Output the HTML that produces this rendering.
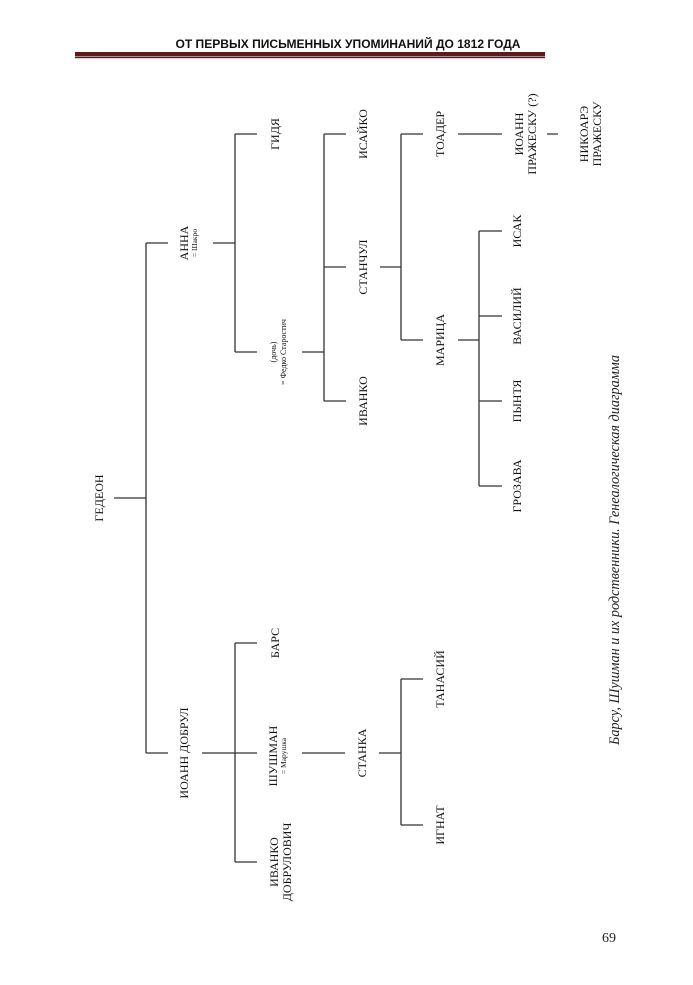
<!DOCTYPE html>
<html><head><meta charset="utf-8"><style>
html,body{margin:0;padding:0;background:#fff;}
svg{display:block;}
</style></head><body>
<svg width="693" height="985" viewBox="0 0 693 985" xmlns="http://www.w3.org/2000/svg">
<rect width="693" height="985" fill="#fff"/>
<text x="348" y="48" text-anchor="middle" font-family="Liberation Sans, sans-serif" font-weight="bold" font-size="11.5" textLength="345" lengthAdjust="spacingAndGlyphs" fill="#111">ОТ ПЕРВЫХ ПИСЬМЕННЫХ УПОМИНАНИЙ ДО 1812 ГОДА</text>
<rect x="75" y="52" width="470" height="4.5" fill="#5e1a1c"/>
<rect x="75" y="57" width="470" height="1.2" fill="#5e1a1c"/>

<g stroke="#333" stroke-width="1.3" fill="none">
<path d="M114 498H146M146 243V753M146 243H168M146 753H168"/>
<path d="M213 243H235M235 134V352M235 134H257M235 352H257"/>
<path d="M302 352H324M324 134V401M324 134H346M324 267H346M324 401H346"/>
<path d="M380 267H401M401 134V340M401 134H423M401 340H423"/>
<path d="M458 134H502M547 134H558"/>
<path d="M458 340H479M479 231V486M479 231H502M479 316H502M479 401H502M479 486H502"/>
<path d="M202 753H257M235 643V862M235 643H257M235 862H257"/>
<path d="M302 753H345M379 753H401M401 679V825M401 679H423M401 825H423"/>
</g>

<g font-family="Liberation Serif, serif" font-size="12" fill="#111" text-anchor="middle">
<text transform="translate(99,498) rotate(-90)" dy="4">ГЕДЕОН</text>
<text transform="translate(188,243) rotate(-90)"><tspan x="0" dy="0">АННА</tspan><tspan x="0" dy="9" font-size="7.5">= Шакро</tspan></text>
<text transform="translate(275,134) rotate(-90)" dy="4">ГИДЯ</text>
<text transform="translate(277,352) rotate(-90)"><tspan x="0" dy="-1" font-size="8">(дочь)</tspan><tspan x="0" dy="10" font-size="8">= Федко Старостич</tspan></text>
<text transform="translate(363,134) rotate(-90)" dy="4">ИСАЙКО</text>
<text transform="translate(363,267) rotate(-90)" dy="4">СТАНЧУЛ</text>
<text transform="translate(363,401) rotate(-90)" dy="4">ИВАНКО</text>
<text transform="translate(440,134) rotate(-90)" dy="4">ТОАДЕР</text>
<text transform="translate(440,340) rotate(-90)" dy="4">МАРИЦА</text>
<text transform="translate(525,134) rotate(-90)"><tspan x="0" dy="-2">ИОАНН</tspan><tspan x="0" dy="13">ПРАЖЕСКУ (?)</tspan></text>
<text transform="translate(590,134) rotate(-90)"><tspan x="0" dy="-2">НИКОАРЭ</tspan><tspan x="0" dy="13">ПРАЖЕСКУ</tspan></text>
<text transform="translate(517,231) rotate(-90)" dy="4">ИСАК</text>
<text transform="translate(517,316) rotate(-90)" dy="4">ВАСИЛИЙ</text>
<text transform="translate(517,401) rotate(-90)" dy="4">ПЫНТЯ</text>
<text transform="translate(517,486) rotate(-90)" dy="4">ГРОЗАВА</text>
<text transform="translate(184,753) rotate(-90)" dy="4">ИОАНН ДОБРУЛ</text>
<text transform="translate(275,643) rotate(-90)" dy="4">БАРС</text>
<text transform="translate(277,756) rotate(-90)"><tspan x="0" dy="0">ШУШМАН</tspan><tspan x="0" dy="9" font-size="7.5">= Марушка</tspan></text>
<text transform="translate(280,862) rotate(-90)"><tspan x="0" dy="-2">ИВАНКО</tspan><tspan x="0" dy="13">ДОБРУЛОВИЧ</tspan></text>
<text transform="translate(362,753) rotate(-90)" dy="4">СТАНКА</text>
<text transform="translate(440,679) rotate(-90)" dy="4">ТАНАСИЙ</text>
<text transform="translate(440,825) rotate(-90)" dy="4">ИГНАТ</text>
</g>

<text transform="translate(614,550) rotate(-90)" dy="5" text-anchor="middle" font-family="Liberation Serif, serif" font-style="italic" font-size="15" textLength="390" lengthAdjust="spacingAndGlyphs" fill="#222">Барсу, Шушман и их родственники. Генеалогическая диаграмма</text>
<text x="609" y="942" text-anchor="middle" font-family="Liberation Serif, serif" font-size="14" fill="#222">69</text>
</svg>
</body></html>
